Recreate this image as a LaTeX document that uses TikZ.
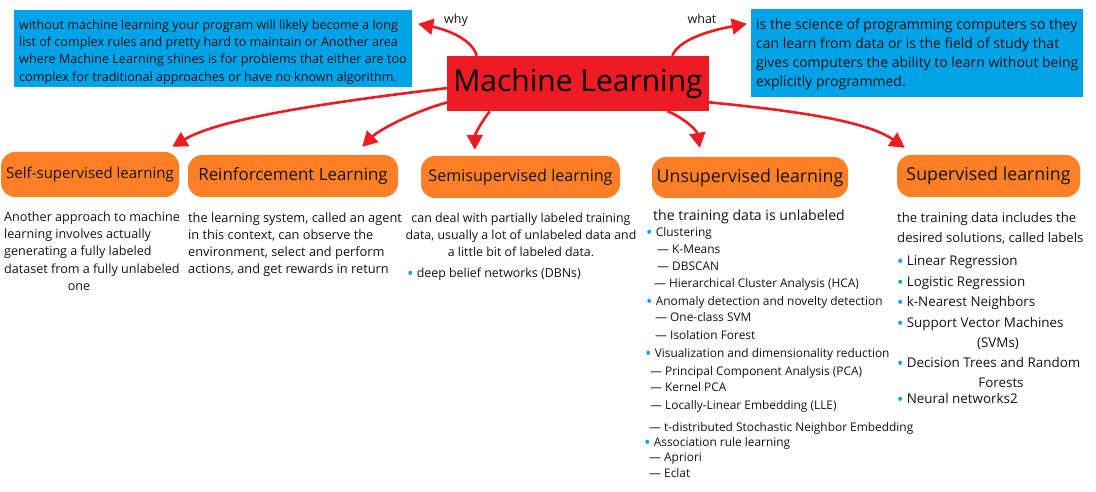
\documentclass[tikz,border=0pt]{standalone}
\usepackage{fontspec}
\setmainfont{Open Sans}
\usetikzlibrary{arrows.meta,calc}
\definecolor{mlred}{RGB}{237,28,36}
\definecolor{mlblue}{RGB}{0,162,232}
\definecolor{mlorange}{RGB}{255,127,39}
\definecolor{mltext}{RGB}{20,20,20}
\newcommand\fsz[1]{\fontsize{#1}{#1}\selectfont}
\newcommand\mlbul{{\color{mlblue}\fontsize{17}{17}\selectfont\raisebox{-2pt}{•}}\hspace{3.2pt}}
\begin{document}
\begin{tikzpicture}[x=1pt,y=-1pt,
  txt/.style={anchor=base west,inner sep=0pt,text=mltext},
  ctxt/.style={anchor=base,inner sep=0pt,text=mltext},
  bluebox/.style={fill=mlblue,draw=none,inner sep=0pt},
  catbox/.style={fill=mlorange,draw=none,rounded corners=14pt,inner sep=0pt,text=mltext},
  arr/.style={draw=mlred,line width=2.6pt,-{Triangle[length=15pt,width=16pt]}}]
\useasboundingbox[fill=white] (0,0) rectangle (1096,492);

% central node
\node[fill=mlred,minimum width=262pt,minimum height=55pt,inner sep=0pt,text=black,font=\fsz{30}] (ml) at (578,83.5) {Machine Learning};

% blue boxes
\node[bluebox,minimum width=398pt,minimum height=77pt] (whybox) at (213,48.5) {};
\foreach \t [count=\i from 0] in {without machine learning your program will likely become a long,list of complex rules and pretty hard to maintain or Another area,where Machine Learning shines is for problems that either are too,complex for traditional approaches or have no known algorithm.}
  \node[txt,font=\fsz{12.6}] (why\i) at (19,{29.4+\i*17.3}) {\t};

\node[bluebox,minimum width=332pt,minimum height=88pt] (whatbox) at (917,53) {};
\foreach \t [count=\i from 0] in {is the science of programming computers so they,can learn from data or is the field of study that,gives computers the ability to learn without being,explicitly programmed.}
  \node[txt,font=\fsz{14}] (what\i) at (756,{29.9+\i*19}) {\t};

\node[ctxt,font=\fsz{12.5}] (whylbl) at (456,23.2) {why};
\node[ctxt,font=\fsz{12.5}] (whatlbl) at (702,23.2) {what};

% category boxes
\node[catbox,minimum width=178pt,minimum height=45pt,font=\fsz{15}] (self) at (90,174.5) {Self-supervised learning};
\node[catbox,minimum width=210pt,minimum height=42pt,font=\fsz{16.9}] (reinf) at (293,176) {Reinforcement Learning};
\node[catbox,minimum width=199pt,minimum height=42pt,font=\fsz{16.1}] (semi) at (520.5,177) {Semisupervised learning};
\node[catbox,minimum width=196pt,minimum height=41pt,font=\fsz{17.8}] (unsup) at (750,177.5) {Unsupervised learning};
\node[catbox,minimum width=183pt,minimum height=42pt,font=\fsz{17.8}] (sup) at (988.5,176) {Supervised learning};

% arrows
\draw[arr] ($(ml.north west)+(30,0)$) .. controls +(-6,-20) and +(20,4) .. ($(whybox.north east)+(6,14)$);
\draw[arr] ($(ml.north east)+(-37,0)$) .. controls +(8,-20) and +(-22,4) .. ($(whatbox.north west)+(-4,15)$);
\draw[arr] ($(ml.west)+(1,4.5)$) .. controls +(-100,12) and +(50,-30) .. ($(self.north east)+(-7,-5)$);
\draw[arr] ($(ml.south west)+(1,-9)$) .. controls +(-30,8) and +(18,-18) .. ($(reinf.north east)+(-36,-8)$);
\draw[arr] ($(ml.south west)+(43,0)$) .. controls +(-8,10) and +(0,-15) .. ($(semi.north west)+(54,-6)$);
\draw[arr] ($(ml.south east)+(-42,0)$) .. controls +(14,5) and +(-3,-18) .. ($(unsup.north west)+(48,-9)$);
\draw[arr] ($(ml.south east)+(-1,-9)$) .. controls +(80,8) and +(-40,-28) .. ($(sup.north west)+(8,-7)$);

% self-supervised description
\foreach \t [count=\i from 0] in {Another approach to machine,learning involves actually,generating a fully labeled,dataset from a fully unlabeled}
  \node[txt,font=\fsz{12.6}] (selfd\i) at (4,{221.4+\i*17.2}) {\t};
\node[ctxt,font=\fsz{12.6}] (selfd4) at (79,290.2) {one};

% reinforcement description
\foreach \t [count=\i from 0] in {{the learning system, called an agent},{in this context, can observe the},{environment, select and perform},{actions, and get rewards in return}}
  \node[txt,font=\fsz{12.8}] (reinfd\i) at (188,{222.5+\i*17}) {\t};

% semisupervised description
\foreach \t [count=\i from 0] in {can deal with partially labeled training,{data, usually a lot of unlabeled data and},a little bit of labeled data.}
  \node[ctxt,font=\fsz{12.4}] (semid\i) at (521,{222.3+\i*17}) {\t};
\node[txt,font=\fsz{12.4}] (semib) at (407,277.3) {\mlbul deep belief networks (DBNs)};

% unsupervised description
\node[txt,font=\fsz{14.1}] (unsupd) at (653,221) {the training data is unlabeled};
\foreach \xx/\yy/\t [count=\i] in {
  646/232/{\mlbul Clustering},
  657/249/{— K-Means},
  657/266/{— DBSCAN},
  654/283/{— Hierarchical Cluster Analysis (HCA)},
  646/301/{\mlbul Anomaly detection and novelty detection},
  655/317/{— One-class SVM},
  655/335/{— Isolation Forest},
  645/353/{\mlbul Visualization and dimensionality reduction},
  650/371/{— Principal Component Analysis (PCA)},
  650/387/{— Kernel PCA},
  650/405/{— Locally-Linear Embedding (LLE)},
  649/427/{— t-distributed Stochastic Neighbor Embedding},
  644/442/{\mlbul Association rule learning},
  649/457/{— Apriori},
  649/473/{— Eclat}}
  \node[txt,font=\fsz{11.9}] (unsupl\i) at (\xx,{\yy+4.2}) {\t};

% supervised description
\node[txt,font=\fsz{13.15}] (supd0) at (897,222.6) {the training data includes the};
\node[txt,font=\fsz{13.15}] (supd1) at (897,242.6) {desired solutions, called labels};
\foreach \yy/\t [count=\i] in {261/Linear Regression,282/Logistic Regression,302/k-Nearest Neighbors,323/Support Vector Machines,363/Decision Trees and Random,399/Neural networks2}
  \node[txt,font=\fsz{13.4}] (supl\i) at (897,{\yy+4.6}) {\mlbul\t};
\node[ctxt,font=\fsz{13.4}] (supl7) at (998,347.6) {(SVMs)};
\node[ctxt,font=\fsz{13.4}] (supl8) at (1001,387.6) {Forests};
\end{tikzpicture}
\end{document}
